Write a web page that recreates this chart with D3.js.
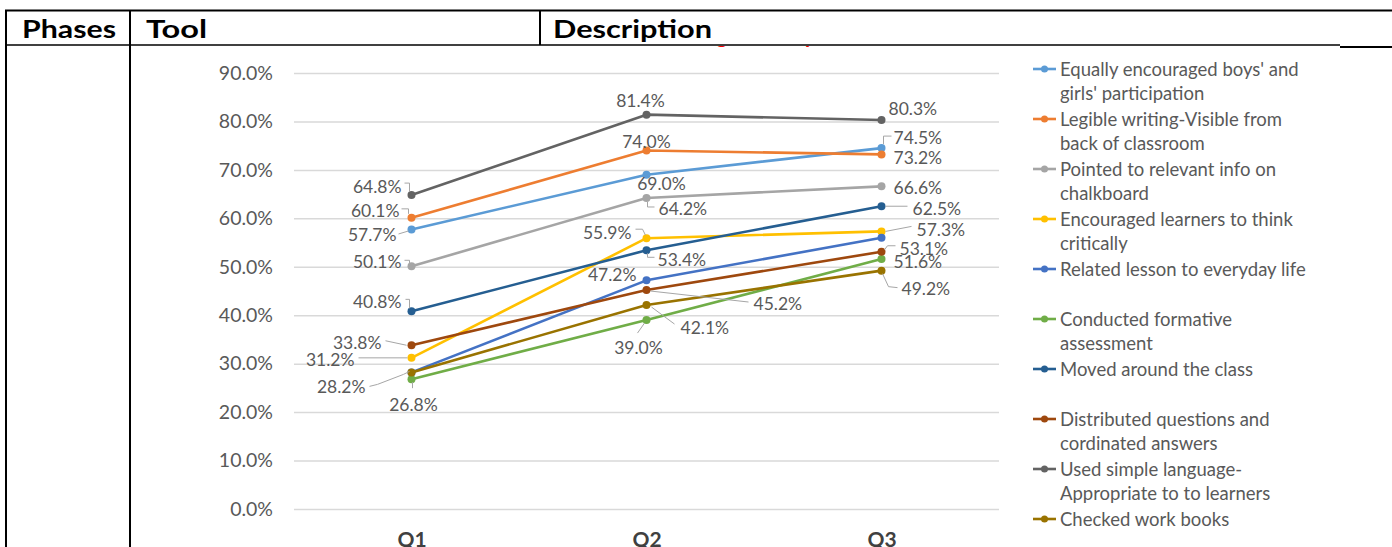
<!DOCTYPE html>
<html>
<head>
<meta charset="utf-8">
<script src="https://cdn.jsdelivr.net/npm/d3@7"></script>
<style>
  html, body { margin: 0; padding: 0; background: #fff; }
  svg { display: block; }
  text { font-family: Lato, "Open Sans", sans-serif; }
</style>
</head>
<body>
<svg id="chart" width="1392" height="547"></svg>
<script>
// ---- data ----
const quarters = ["Q1", "Q2", "Q3"];
const seriesNames = [
  ["Equally encouraged boys' and", "girls' participation"],
  ["Legible writing-Visible from", "back of classroom"],
  ["Pointed to relevant info on", "chalkboard"],
  ["Encouraged learners to think", "critically"],
  ["Related lesson to everyday life"],
  ["Conducted formative", "assessment"],
  ["Moved around the class"],
  ["Distributed questions and", "cordinated answers"],
  ["Used simple language-", "Appropriate to to learners"],
  ["Checked work books"]
];
const equallyEncouraged = [57.7, 69.0, 74.5];
const legibleWriting    = [60.1, 74.0, 73.2];
const pointedToInfo     = [50.1, 64.2, 66.6];
const thinkCritically   = [31.2, 55.9, 57.3];
const relatedLesson     = [28.2, 47.2, 56.0];
const formativeAssess   = [26.8, 39.0, 51.6];
const movedAround       = [40.8, 53.4, 62.5];
const distributedQs     = [33.8, 45.2, 53.1];
const simpleLanguage    = [64.8, 81.4, 80.3];
const checkedWorkBooks  = [28.2, 42.1, 49.2];
const seriesValues = [equallyEncouraged, legibleWriting, pointedToInfo, thinkCritically,
  relatedLesson, formativeAssess, movedAround, distributedQs, simpleLanguage, checkedWorkBooks];
const yTicks = [0, 10, 20, 30, 40, 50, 60, 70, 80, 90];

// ---- styling ----
const colors = ["#5B9BD5", "#ED7D31", "#A5A5A5", "#FFC000", "#4472C4",
                "#70AD47", "#255E91", "#9E480E", "#636363", "#997300"];

// data-label placement per series / quarter: offset from the point, anchor, leader line
const labelLayout = [
  [{dx:-15, dy:5.5, a:"end", l:[[-13,4.5],[-3,1.5]]}, {dx:15, dy:8.5, a:"middle"}, {dx:12, dy:-11, a:"start", l:[[10,-12],[2,-12],[2,-4]]}],
  [{dx:-12, dy:-7, a:"end", l:[[-10,-9],[-3,-9],[-3,-4]]}, {dx:0, dy:-9.5, a:"middle"}, {dx:12, dy:3.5, a:"start"}],
  [{dx:-10, dy:-4.5, a:"end", l:[[-7,-6],[-2,-6],[-2,-2]]}, {dx:12, dy:11, a:"start", l:[[1,4],[1,9],[8,9]]}, {dx:12, dy:1.5, a:"start"}],
  [{dx:-57, dy:2, a:"end", l:[[-53,0],[-4,0]]}, {dx:-15, dy:-6, a:"end", l:[[-11,-9],[-4,-9],[-1,-3]]}, {dx:35, dy:-2, a:"start", l:[[4,0],[30,-5]]}],
  [null, {dx:-10, dy:-6, a:"end"}, null],
  [{dx:2, dy:25, a:"middle", l:[[1,3],[1,9]]}, {dx:-8, dy:27, a:"middle", l:[[-2,3],[-9,13]]}, {dx:12, dy:2, a:"start"}],
  [{dx:-10, dy:-10, a:"end", l:[[-6,-12],[-2,-12],[-2,-3]]}, {dx:11, dy:9, a:"start", l:[[1,3],[1,7],[8,7]]}, {dx:31, dy:2, a:"start", l:[[4,0],[26,0]]}],
  [{dx:-30, dy:-2.6, a:"end", l:[[-26,-4.5],[-5,0]]}, {dx:107, dy:13, a:"start", l:[[4,1],[102,12]]}, {dx:18, dy:-3.5, a:"start", l:[[3,-2],[6,-6],[14,-6]]}],
  [{dx:-10, dy:-9, a:"end", l:[[-7,-12],[-2,-12],[-2,-4]]}, {dx:-6, dy:-14, a:"middle"}, {dx:7, dy:-11, a:"start"}],
  [{dx:-46, dy:14.6, a:"end", l:[[-42,14],[-34,12],[-8,2],[-2,-1]]}, {dx:34, dy:22, a:"start", l:[[5,2],[28,19]]}, {dx:20, dy:18, a:"start", l:[[1,3],[7,16],[16,17]]}]
];

const svg = d3.select("#chart");
svg.append("rect").attr("width", 1392).attr("height", 547).attr("fill", "#fff");

// ---- surrounding table header ----
const table = svg.append("g");
const rule = (x1, y1, x2, y2, w) => table.append("line")
  .attr("x1", x1).attr("y1", y1).attr("x2", x2).attr("y2", y2)
  .attr("stroke", "#000").attr("stroke-width", w);
rule(5, 10.5, 1392, 10.5, 2);
rule(6, 10, 6, 547, 2);
rule(130, 10, 130, 547, 2);
rule(540, 10, 540, 45, 2);
rule(5, 45, 1340, 45, 1.6);
rule(1340, 47, 1392, 47, 2);
const headers = [["Phases", 22, 94], ["Tool", 146, 61], ["Description", 553, 159]];
table.selectAll("text.hdr").data(headers).join("text")
  .attr("class", "hdr")
  .attr("x", d => d[1]).attr("y", 38)
  .attr("textLength", d => d[2]).attr("lengthAdjust", "spacingAndGlyphs")
  .style("font-size", "25px").style("font-weight", "700").attr("fill", "#000")
  .text(d => d[0]);

// chart title, mostly hidden above the chart area
svg.append("clipPath").attr("id", "titleClip")
  .append("rect").attr("x", 600).attr("y", 46).attr("width", 300).attr("height", 4);
svg.append("text")
  .attr("clip-path", "url(#titleClip)")
  .attr("x", 698).attr("y", 43)
  .style("font-size", "22px").style("font-weight", "700").attr("fill", "#FF0000")
  .text("ing Delivery");

// ---- chart ----
const x = d3.scalePoint().domain(quarters).range([294, 999]).padding(0.5);
const y = d3.scaleLinear().domain([0, 90]).range([509, 73]);

const yAxis = svg.append("g").attr("transform", "translate(294,0)")
  .call(d3.axisLeft(y).tickValues(yTicks).tickSize(-(999 - 294)).tickPadding(21)
    .tickFormat(d => d.toFixed(1) + "%"));
yAxis.select(".domain").remove();
yAxis.selectAll(".tick line").attr("stroke", "#D9D9D9").attr("stroke-width", 1.5);
yAxis.selectAll(".tick text").attr("fill", "#595959")
  .style("font-size", "19.5px").style("font-family", "Lato, sans-serif");

const xAxis = svg.append("g").attr("transform", "translate(0,509)")
  .call(d3.axisBottom(x).tickSize(0).tickPadding(0));
xAxis.select(".domain").remove();
xAxis.selectAll(".tick text").attr("y", 38).attr("dy", "0")
  .attr("fill", "#404040")
  .style("font-size", "21px").style("font-weight", "700").style("font-family", "Lato, sans-serif");

const line = d3.line().x((d, i) => x(quarters[i])).y(d => y(d));
const seriesG = svg.append("g");
seriesValues.forEach((vals, s) => {
  const g = seriesG.append("g");
  g.append("path").datum(vals).attr("d", line)
    .attr("fill", "none").attr("stroke", colors[s]).attr("stroke-width", 2.6)
    .attr("stroke-linejoin", "round");
  g.selectAll("circle").data(vals).join("circle")
    .attr("cx", (d, i) => x(quarters[i])).attr("cy", d => y(d)).attr("r", 4)
    .attr("fill", colors[s]);
});

// data labels with leader lines
const labelG = svg.append("g");
seriesValues.forEach((vals, s) => {
  vals.forEach((v, i) => {
    const spec = labelLayout[s][i];
    if (!spec) return;
    const px = x(quarters[i]), py = y(v);
    if (spec.l) {
      labelG.append("polyline")
        .attr("points", spec.l.map(p => (px + p[0]) + "," + (py + p[1])).join(" "))
        .attr("fill", "none").attr("stroke", "#A6A6A6").attr("stroke-width", 1);
    }
    labelG.append("text")
      .attr("x", px + spec.dx).attr("y", py + spec.dy)
      .attr("text-anchor", spec.a).attr("dominant-baseline", "central")
      .attr("fill", "#595959").style("font-size", "17.5px")
      .text(v.toFixed(1) + "%");
  });
});

// ---- legend ----
const legend = svg.append("g");
seriesNames.forEach((lines, s) => {
  const ly = 69 + s * 50;
  const item = legend.append("g");
  item.append("line").attr("x1", 1033).attr("x2", 1056).attr("y1", ly).attr("y2", ly)
    .attr("stroke", colors[s]).attr("stroke-width", 2.6);
  item.append("circle").attr("cx", 1044.5).attr("cy", ly).attr("r", 3.5).attr("fill", colors[s]);
  lines.forEach((t, k) => {
    item.append("text").attr("x", 1060).attr("y", ly + k * 24)
      .attr("dominant-baseline", "central")
      .attr("fill", "#595959").style("font-size", "18.5px")
      .text(t);
  });
});
</script>
</body>
</html>
